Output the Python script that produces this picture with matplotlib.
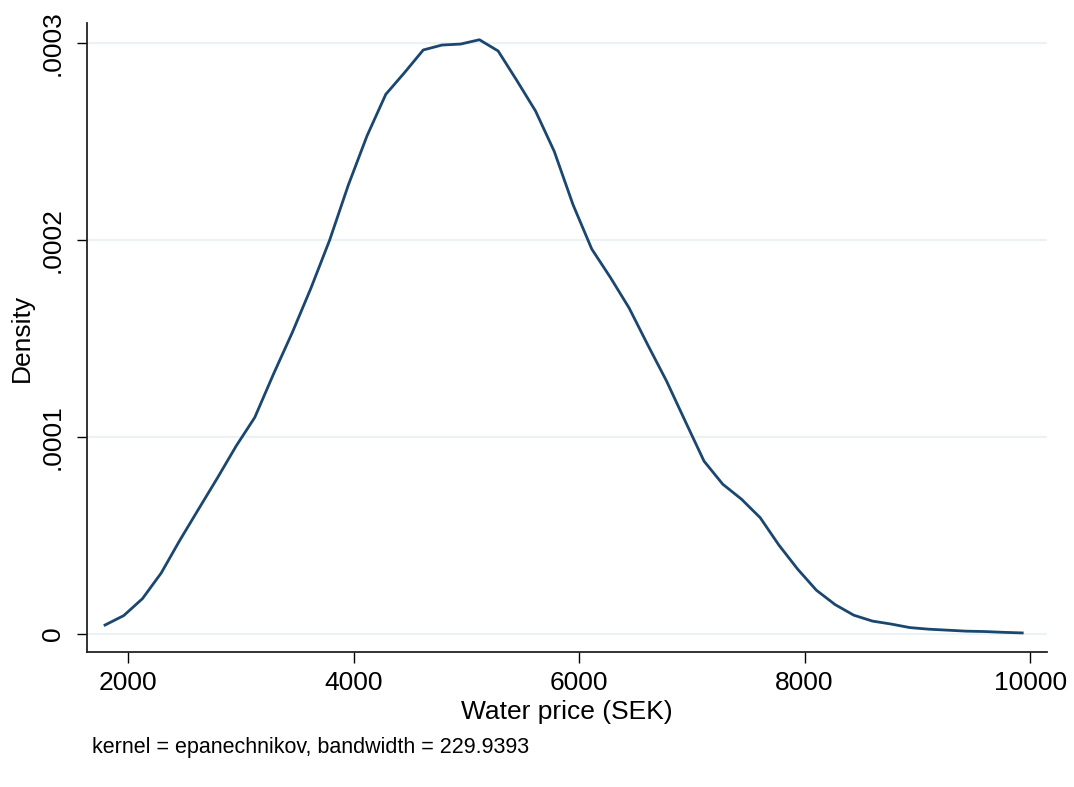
import matplotlib.pyplot as plt
from matplotlib.ticker import FuncFormatter

plt.rcParams['font.family'] = ['Liberation Sans', 'DejaVu Sans']

# kernel density estimate, 50 evaluation points
price = [1796, 1962, 2128, 2294, 2460, 2626, 2792, 2958, 3124, 3290,
         3456, 3622, 3788, 3954, 4120, 4286, 4452, 4618, 4784, 4950,
         5116, 5282, 5448, 5614, 5780, 5946, 6112, 6278, 6444, 6610,
         6776, 6942, 7108, 7274, 7440, 7606, 7772, 7938, 8104, 8270,
         8436, 8602, 8768, 8934, 9100, 9266, 9432, 9598, 9764, 9930]
# density in units of 1e-4
density = [0.046, 0.094, 0.180, 0.310, 0.477, 0.635, 0.792, 0.954, 1.100, 1.320,
           1.530, 1.756, 2.000, 2.280, 2.530, 2.740, 2.850, 2.965, 2.990, 2.995,
           3.017, 2.960, 2.810, 2.655, 2.450, 2.180, 1.955, 1.810, 1.655, 1.467,
           1.284, 1.080, 0.878, 0.761, 0.685, 0.591, 0.452, 0.330, 0.223, 0.150,
           0.096, 0.066, 0.051, 0.033, 0.025, 0.020, 0.015, 0.013, 0.009, 0.006]

xticks = [2000, 4000, 6000, 8000, 10000]
yticks = [0, 0.0001, 0.0002, 0.0003]

fig = plt.figure(figsize=(10.74, 7.87), dpi=100)
ax = fig.add_axes([0.081, 0.1715, 0.894, 0.7993])

ax.plot(price, [d * 1e-4 for d in density], color='#1a476f', lw=2.0)

ax.set_xlim(1636, 10151)
ax.set_ylim(-0.0000091, 0.0003102)
ax.set_xticks(xticks)
ax.set_yticks(yticks)

def yfmt(v, pos):
    if v == 0:
        return '0'
    return ('%.4f' % v).lstrip('0')

ax.yaxis.set_major_formatter(FuncFormatter(yfmt))
ax.grid(axis='y', color='#eaf2f3', lw=1.5)
ax.set_axisbelow(True)

for s in ['top', 'right']:
    ax.spines[s].set_visible(False)
for s in ['left', 'bottom']:
    ax.spines[s].set_linewidth(1.3)
    ax.spines[s].set_color('#222222')

ax.tick_params(axis='x', length=8, width=1, labelsize=19, pad=6)
ax.tick_params(axis='y', length=7, width=1, labelsize=19, pad=9)
for lbl in ax.get_yticklabels():
    lbl.set_rotation(90)
    lbl.set_va('center')

ax.set_xlabel('Water price (SEK)', fontsize=19, labelpad=3)
ax.set_ylabel('Density', fontsize=19, labelpad=5)

fig.text(0.0857, 0.050, 'kernel = epanechnikov, bandwidth = 229.9393',
         fontsize=15.5, ha='left', va='center')

fig.savefig('out.png', dpi=100)
